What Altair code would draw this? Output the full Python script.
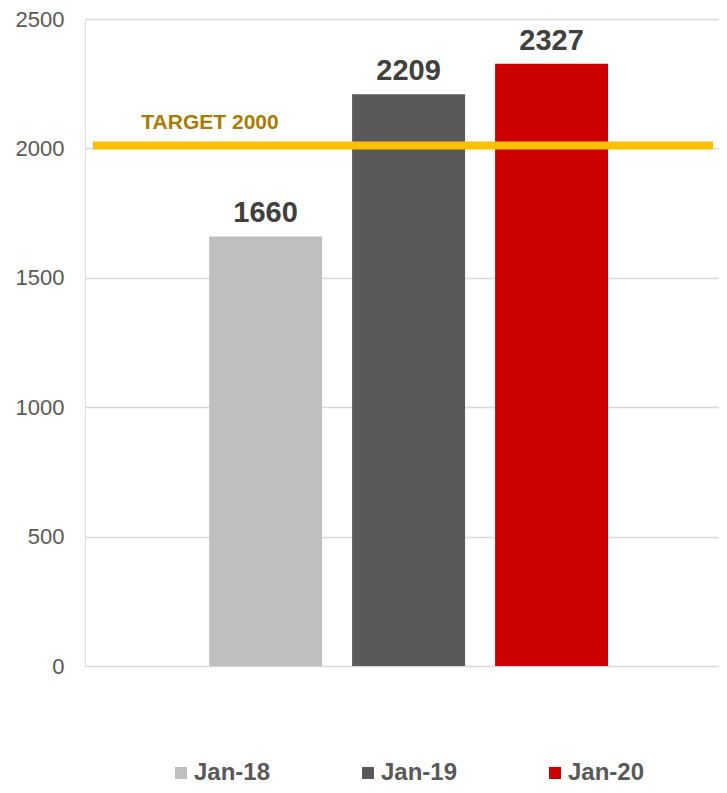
import altair as alt
import pandas as pd

months = ["Jan-18", "Jan-19", "Jan-20"]
values = [1660, 2209, 2327]
colors = ["#BFBFBF", "#595959", "#CC0000"]
target = [2000]
target_label = ["TARGET 2000"]
y_ticks = [0, 500, 1000, 1500, 2000, 2500]

FONT = "Liberation Sans"

df = pd.DataFrame({"month": months, "value": values})
tdf = pd.DataFrame({"target": target, "label": target_label})

x_enc = alt.X("month:N", sort=months, axis=None,
              scale=alt.Scale(paddingInner=0.21, paddingOuter=0.822, align=0.528))
y_scale = alt.Scale(domain=[0, 2500], nice=False, zero=True)

bars = alt.Chart(df).mark_bar().encode(
    x=x_enc,
    y=alt.Y("value:Q", scale=y_scale, title=None,
            axis=alt.Axis(values=y_ticks, format="d", grid=True, gridColor="#D9D9D9",
                          gridWidth=1.5, domain=False, ticks=False, labelFont=FONT,
                          labelFontSize=22, labelColor="#595959", labelPadding=21)),
    color=alt.Color("month:N", sort=months,
                    scale=alt.Scale(domain=months, range=colors),
                    legend=alt.Legend(title=None, orient="none", direction="horizontal",
                                      columns=3, legendX=84, legendY=742,
                                      symbolType="square", symbolSize=144,
                                      symbolStrokeWidth=0, symbolOpacity=1,
                                      labelFont=FONT, labelFontSize=24,
                                      labelFontWeight="bold", labelColor="#595959",
                                      labelOffset=1, columnPadding=85, padding=0)),
)

labels = alt.Chart(df).mark_text(
    font=FONT, fontSize=29, fontWeight="bold", color="#404040",
    baseline="alphabetic", align="center", dy=-14
).encode(
    x=x_enc,
    y=alt.Y("value:Q", scale=y_scale),
    text=alt.Text("value:Q"),
)

rule = alt.Chart(tdf).mark_rule(color="#FFC000", strokeWidth=8, yOffset=-3).encode(
    y=alt.Y("target:Q", scale=y_scale),
    x=alt.value(8),
    x2=alt.value(628),
)

tlabel = alt.Chart(tdf).mark_text(
    font=FONT, fontSize=21, fontWeight="bold", color="#A67C00",
    baseline="alphabetic", align="center", dy=-19
).encode(
    y=alt.Y("target:Q", scale=y_scale),
    x=alt.value(125),
    text="label:N",
)

chart = alt.layer(bars, labels, rule, tlabel).properties(
    width=634, height=647,
    autosize=alt.AutoSizeParams(type="none"),
    padding={"left": 77, "top": 11, "right": 0, "bottom": 119},
).configure_view(stroke=None).configure(background="white")

chart.save("out.html", embed_options={"renderer": "svg", "actions": False})
